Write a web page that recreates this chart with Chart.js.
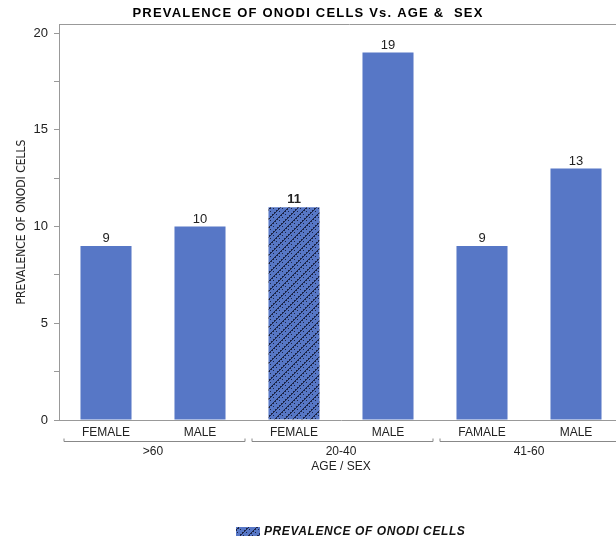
<!DOCTYPE html>
<html><head><meta charset="utf-8">
<script src="https://cdn.jsdelivr.net/npm/chart.js@4/dist/chart.umd.min.js"></script>
<style>
html,body{margin:0;padding:0;background:#fff;overflow:hidden;width:616px;height:543px}
#wrap{position:relative;width:640px;height:543px}
</style>
</head><body><div id="wrap"><canvas id="c"></canvas></div>
<script>
const categories = ['FEMALE', 'MALE', 'FEMALE', 'MALE', 'FAMALE', 'MALE'];
const groups = ['>60', '20-40', '41-60'];
const values = [9, 10, 11, 19, 9, 13];
const yTicks = [0, 2.5, 5, 7.5, 10, 12.5, 15, 17.5, 20];
const yTickLabels = ['0', '', '5', '', '10', '', '15', '', '20'];
const highlightIndex = 2;
const chartTitle = 'PREVALENCE OF ONODI CELLS Vs. AGE &  SEX';
const yTitle = 'PREVALENCE OF ONODI CELLS';
const xTitle = 'AGE / SEX';
const legendLabel = 'PREVALENCE OF ONODI CELLS';

const BLUE = '#5777C6';
const FONT = "'Liberation Sans', Arial, sans-serif";

function makePattern() {
  const s = 36;
  const c = document.createElement('canvas');
  c.width = s; c.height = s;
  const g = c.getContext('2d');
  g.fillStyle = BLUE; g.fillRect(0, 0, s, s);
  g.fillStyle = '#1c2548';
  for (let x = 0; x < s; x++) {
    for (let y = 0; y < s; y++) {
      const d = (x + y) % 9;
      if ((d === 0 || d === 1) && ((x * 3 + y) % 4 !== 0)) g.fillRect(x, y, 1, 1);
      if (d === 4 && (x % 3 === 0)) g.fillRect(x, y, 1, 1);
    }
  }
  return g.createPattern(c, 'repeat');
}
const pattern = makePattern();
const barColors = values.map((v, i) => i === highlightIndex ? pattern : BLUE);

const extras = {
  id: 'extras',
  afterDraw(chart) {
    const ctx = chart.ctx;
    const ca = chart.chartArea;
    const xs = chart.scales.x;
    ctx.save();
    // title
    ctx.fillStyle = '#000';
    ctx.font = "bold 13px " + FONT;
    ctx.letterSpacing = '1.2px';
    ctx.textAlign = 'center';
    ctx.textBaseline = 'middle';
    ctx.fillText(chartTitle, 308, 13);
    ctx.letterSpacing = '0px';
    // top border
    ctx.strokeStyle = '#999';
    ctx.lineWidth = 1;
    ctx.beginPath();
    ctx.moveTo(ca.left, Math.round(ca.top) + 0.5);
    ctx.lineTo(chart.width, Math.round(ca.top) + 0.5);
    ctx.stroke();
    // data labels
    const meta = chart.getDatasetMeta(0);
    ctx.fillStyle = '#222';
    ctx.textBaseline = 'bottom';
    meta.data.forEach((el, i) => {
      ctx.font = (i === highlightIndex ? 'bold ' : '') + '13px ' + FONT;
      ctx.fillText(String(values[i]), el.x, el.y - 1);
    });
    // group brackets + labels
    const catW = xs.getPixelForValue(1) - xs.getPixelForValue(0);
    ctx.strokeStyle = '#888';
    ctx.font = '12px ' + FONT;
    ctx.textBaseline = 'middle';
    groups.forEach((g, gi) => {
      const left = xs.getPixelForValue(gi * 2) - catW / 2;
      const right = xs.getPixelForValue(gi * 2 + 1) + catW / 2;
      const y = 441.5;
      ctx.beginPath();
      ctx.moveTo(left + 5, y - 3);
      ctx.lineTo(left + 5, y);
      ctx.lineTo(right - 2, y);
      ctx.lineTo(right - 2, y - 3);
      ctx.stroke();
      ctx.fillText(g, (left + right) / 2, 452);
    });
    // legend
    ctx.fillStyle = pattern;
    ctx.fillRect(236, 527, 24, 9);
    ctx.fillStyle = '#111';
    ctx.font = 'italic bold 12px ' + FONT;
    ctx.letterSpacing = '0.6px';
    ctx.textAlign = 'left';
    ctx.textBaseline = 'middle';
    ctx.fillText(legendLabel, 264, 532);
    ctx.restore();
  }
};

new Chart(document.getElementById('c'), {
  type: 'bar',
  data: {
    labels: categories,
    datasets: [{
      label: legendLabel,
      data: values,
      backgroundColor: barColors,
      borderWidth: 0,
      barPercentage: 0.543,
      categoryPercentage: 1
    }]
  },
  options: {
    responsive: true,
    maintainAspectRatio: false,
    animation: false,
    layout: { padding: { top: 24, right: 17, bottom: 0, left: 0 } },
    plugins: { legend: { display: false }, title: { display: false }, tooltip: { enabled: false } },
    scales: {
      x: {
        afterFit(s) { s.height = 123; },
        grid: { display: true, drawOnChartArea: false, drawTicks: false },
        border: { display: true, color: '#999', width: 1 },
        ticks: { font: { family: FONT, size: 12 }, color: '#222', padding: 5, maxRotation: 0, autoSkip: false },
        title: { display: true, text: xTitle, font: { family: FONT, size: 12 }, color: '#222', padding: { top: 0, bottom: 69 } }
      },
      y: {
        min: 0, max: 20.47,
        afterFit(s) { s.width = 59; },
        afterBuildTicks(s) { s.ticks = yTicks.map(v => ({ value: v })); },
        grid: { display: true, drawOnChartArea: false, drawTicks: true, tickLength: 5, color: '#999' },
        border: { display: true, color: '#999', width: 1 },
        ticks: {
          font: { family: FONT, size: 13 }, color: '#222', padding: 6,
          callback: (v) => { const k = yTicks.indexOf(v); return k >= 0 ? yTickLabels[k] : ''; }
        },
        title: { display: true, text: yTitle, font: { family: "'Liberation Sans Narrow', 'DejaVu Sans Condensed', " + FONT, size: 12 }, color: '#222', padding: { top: 15, bottom: 0 } }
      }
    }
  },
  plugins: [extras]
});
</script>
</body></html>
